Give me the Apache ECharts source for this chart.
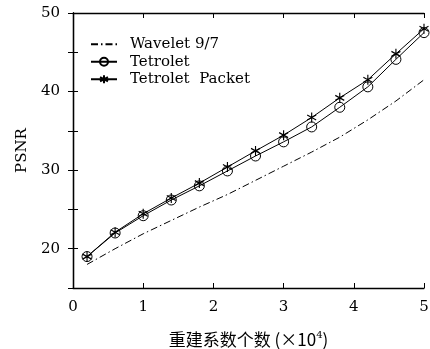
<!DOCTYPE html>
<html>
<head>
<meta charset="utf-8">
<script src="https://cdn.jsdelivr.net/npm/echarts@6/dist/echarts.min.js"></script>
<style>
html,body{margin:0;padding:0;background:#fff;}
#showChart{width:430px;height:349px;}
</style>
</head>
<body>
<div id="showChart"></div>
<script>
// 横轴：重建系数个数 (x10^4)
var xs = [0.2, 0.6, 1.0, 1.4, 1.8, 2.2, 2.6, 3.0, 3.4, 3.8, 4.2, 4.6, 5.0];
var wavelet = [18.0, 20.0, 21.9, 23.6, 25.3, 26.9, 28.7, 30.5, 32.3, 34.2, 36.4, 38.8, 41.5];
var tetrolet = [19.0, 22.0, 24.2, 26.2, 28.0, 29.9, 31.8, 33.6, 35.5, 38.0, 40.6, 44.1, 47.5];
var packet = [19.0, 22.1, 24.45, 26.45, 28.35, 30.4, 32.45, 34.45, 36.7, 39.2, 41.5, 44.8, 48.0];
var names = ['Wavelet 9/7', 'Tetrolet', 'Tetrolet  Packet'];

var myChart = echarts.init(document.getElementById('showChart'));

var serif = "'DejaVu Serif', 'Liberation Serif', serif";
var star = 'path://M0,-5L0,5M-4.33,-2.5L4.33,2.5M-4.33,2.5L4.33,-2.5';

function pairs(ys) {
    var out = [];
    for (var i = 0; i < xs.length; i++) {
        out.push([xs[i], ys[i]]);
    }
    return out;
}

var tick = {show: true, inside: true, length: 5, lineStyle: {color: '#000', width: 1}};
var line = {show: true, lineStyle: {color: '#000', width: 1.3}};

option = {
    animation: false,
    backgroundColor: '#fff',
    grid: {left: 73, right: 6, top: 13, bottom: 61, outerBoundsMode: 'none'},
    legend: {
        orient: 'vertical',
        left: 85,
        top: 31,
        itemWidth: 26,
        itemHeight: 10,
        itemGap: 1,
        data: [
            {name: names[0], itemStyle: {opacity: 0}},
            {name: names[1]},
            {name: names[2]}
        ],
        textStyle: {fontFamily: serif, fontSize: 15, lineHeight: 16.5, color: '#000', padding: [0, 0, 0, 8]}
    },
    xAxis: [{
        type: 'value', min: 0, max: 5, interval: 1,
        axisLine: line, axisTick: tick, splitLine: {show: false},
        axisLabel: {fontFamily: serif, fontSize: 15, color: '#000', margin: 12},
        name: '{a|重建系数个数 (×10}{b|4}{a|)}',
        nameLocation: 'middle',
        nameGap: 42,
        nameTextStyle: {
            rich: {
                a: {fontFamily: 'Noto Sans CJK SC', fontSize: 17, color: '#000'},
                b: {fontFamily: serif, fontSize: 10, color: '#000', verticalAlign: 'top', padding: [0, 0, 9, 0]}
            }
        }
    }, {
        type: 'value', min: 0, max: 5, interval: 1, position: 'top',
        axisLine: line, axisTick: tick, axisLabel: {show: false}, splitLine: {show: false}
    }],
    yAxis: [{
        type: 'value', min: 15, max: 50, interval: 5,
        axisLine: line, axisTick: tick, splitLine: {show: false},
        axisLabel: {
            fontFamily: serif, fontSize: 15, color: '#000', margin: 13,
            formatter: function (v) { return v % 10 === 0 ? v : ''; }
        },
        name: 'PSNR',
        nameLocation: 'middle',
        nameGap: 40,
        nameTextStyle: {fontFamily: serif, fontSize: 15, color: '#000'}
    }, {
        type: 'value', min: 15, max: 50, interval: 5, position: 'right',
        axisLine: line, axisTick: tick, axisLabel: {show: false}, splitLine: {show: false}
    }],
    series: [{
        name: names[0],
        type: 'line',
        data: pairs(wavelet),
        symbol: 'none',
        lineStyle: {color: '#000', width: 1, type: [7, 3, 1.5, 3]},
        itemStyle: {color: '#000'}
    }, {
        name: names[1],
        type: 'line',
        data: pairs(tetrolet),
        symbol: 'circle',
        symbolSize: 10,
        lineStyle: {color: '#000', width: 1},
        itemStyle: {color: 'rgba(255,255,255,0)', borderColor: '#000', borderWidth: 1}
    }, {
        name: names[2],
        type: 'line',
        data: pairs(packet),
        symbol: star,
        symbolSize: [9, 10],
        lineStyle: {color: '#000', width: 1},
        itemStyle: {color: '#000', borderColor: '#000', borderWidth: 1.2}
    }]
};

myChart.setOption(option);
</script>
</body>
</html>
